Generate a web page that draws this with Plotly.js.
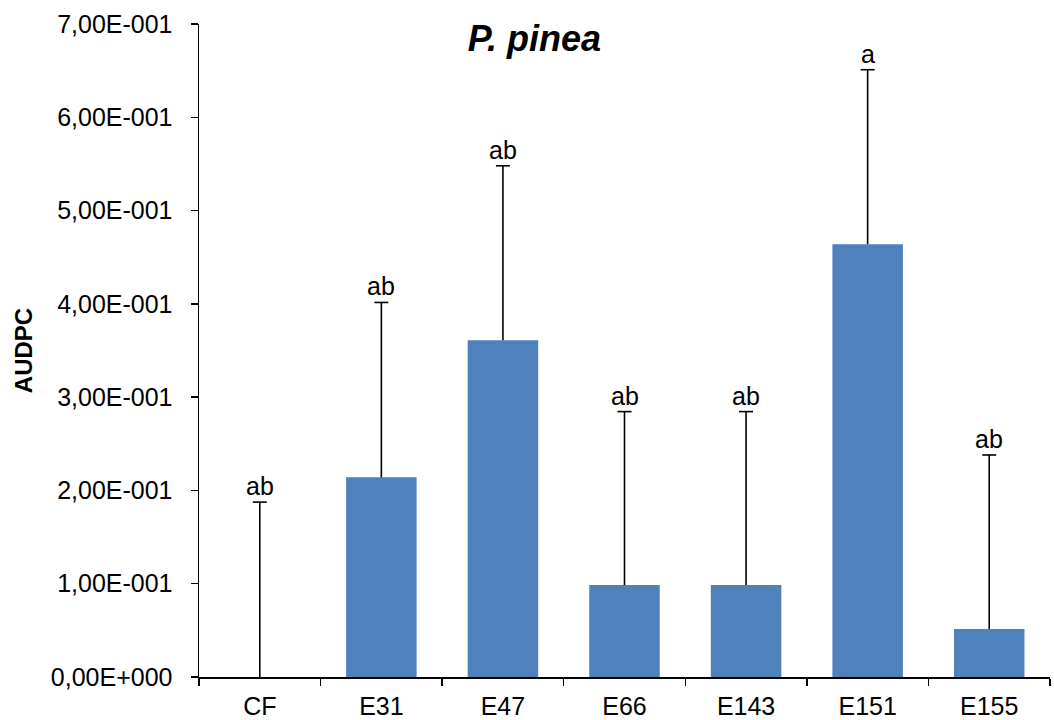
<!DOCTYPE html>
<html>
<head>
<meta charset="utf-8">
<script src="https://cdn.plot.ly/plotly-3.0.1.min.js"></script>
<style>html,body{margin:0;padding:0;background:#fff;}#chart{width:1054px;height:720px;}</style>
</head>
<body>
<div id="chart"></div>
<script>
const categories = ["CF", "E31", "E47", "E66", "E143", "E151", "E155"];
const audpc = [0, 0.214, 0.361, 0.0985, 0.0985, 0.464, 0.0515];
const errPlus = [0.1875, 0.1875, 0.187, 0.186, 0.186, 0.187, 0.1865];
const letters = ["ab", "ab", "ab", "ab", "ab", "a", "ab"];
const yTickVals = [0, 0.1, 0.2, 0.3, 0.4, 0.5, 0.6, 0.7];
const yTickText = ["0,00E+000", "1,00E-001", "2,00E-001", "3,00E-001", "4,00E-001", "5,00E-001", "6,00E-001", "7,00E-001"];

const FONT = "Liberation Sans, Arial, sans-serif";
const BAR_COLOR = "#4F81BD";

const errTops = audpc.map((v, i) => v + errPlus[i]);

const barTrace = {
  type: "bar",
  x: categories,
  y: audpc,
  width: 0.58,
  marker: {color: BAR_COLOR, line: {width: 0}},
  error_y: {type: "data", symmetric: false, array: errPlus, arrayminus: categories.map(() => 0),
            color: "#000", thickness: 1.6, width: 0},
  hoverinfo: "x+y"
};
// top caps of the one-sided error bars
const capTrace = {
  type: "scatter",
  mode: "markers",
  x: categories,
  y: errTops,
  marker: {symbol: "line-ew", size: 10, color: "#000", line: {color: "#000", width: 1.6}},
  hoverinfo: "skip"
};

const annotations = categories.map((c, i) => ({
  x: c, y: errTops[i], xref: "x", yref: "y",
  text: letters[i], showarrow: false, yanchor: "bottom", yshift: 0,
  font: {family: FONT, size: 25, color: "#000"}
}));

const layout = {
  width: 1054, height: 720,
  margin: {l: 199, r: 4, t: 24, b: 43, pad: 0},
  paper_bgcolor: "#fff", plot_bgcolor: "#fff",
  showlegend: false,
  title: {text: "<b><i>P. pinea</i></b>", x: 0.507, xanchor: "center", y: 0.946, yanchor: "middle",
          font: {family: FONT, size: 36, color: "#000"}},
  xaxis: {
    type: "category", tickson: "boundaries", ticks: "outside", ticklen: 7, tickwidth: 1.5, tickcolor: "#000",
    showline: true, linecolor: "#000", linewidth: 1.5, showgrid: false, zeroline: false,
    ticklabelstandoff: 6,
    tickfont: {family: FONT, size: 25, color: "#000"}, range: [-0.5, 6.5]
  },
  yaxis: {
    range: [0, 0.7], tickvals: yTickVals, ticktext: yTickText, ticks: "outside", ticklen: 7, tickwidth: 1.5,
    tickcolor: "#000", showline: true, linecolor: "#000", linewidth: 1.5, showgrid: false, zeroline: false,
    ticklabelstandoff: 13,
    tickfont: {family: FONT, size: 25, color: "#000"},
    title: {text: "<b>AUDPC</b>", font: {family: FONT, size: 24, color: "#000"}, standoff: 11}
  },
  annotations: annotations
};

Plotly.newPlot("chart", [barTrace, capTrace], layout, {displayModeBar: false, staticPlot: true});
</script>
</body>
</html>
